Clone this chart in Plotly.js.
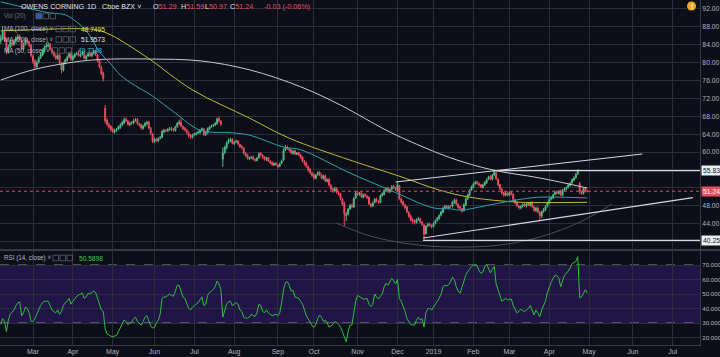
<!DOCTYPE html>
<html><head><meta charset="utf-8">
<script src="https://cdn.plot.ly/plotly-3.0.1.min.js"></script>
<style>html,body{margin:0;padding:0;background:#0c0e18;overflow:hidden}#chart{width:720px;height:357px}</style>
</head><body><div id="chart"></div>
<script>
// bar index: 0 = first trading day of March 2018 (trading-day axis, as TradingView)
const firstBar = -17;
const open = [
84.8,85.4,86.8,85.2,82.4,83.6,84.5,84.1,84.9,85.3,
85.9,85.0,83.1,84.1,85.1,84.5,83.9,81.4,80.3,79.0,
80.1,81.1,81.7,82.5,83.5,83.7,84.1,82.9,82.3,81.5,
80.9,81.7,79.7,78.3,79.9,80.5,81.3,82.1,80.7,81.3,
81.9,82.1,81.5,81.9,82.3,80.9,81.5,82.1,81.5,82.1,
82.5,81.7,80.5,78.9,77.7,69.8,67.1,66.1,65.7,65.1,
64.5,64.9,65.1,65.5,66.1,66.5,67.3,66.9,66.1,66.5,
66.5,67.1,67.3,66.3,66.1,65.3,65.9,66.3,66.7,65.3,
64.1,62.3,62.9,62.5,63.1,63.3,64.5,64.9,64.7,65.1,
65.3,65.1,64.8,65.7,66.3,66.7,65.7,65.3,64.9,64.3,
63.7,63.3,63.9,63.9,64.3,64.3,64.9,65.1,63.9,64.3,
65.1,65.7,65.9,66.1,66.3,67.5,66.9,58.4,59.9,60.9,
62.1,62.5,62.9,61.9,62.3,62.5,61.7,61.3,60.9,59.7,
59.3,58.5,58.7,58.9,58.3,58.1,58.7,59.7,59.3,58.9,
58.3,58.7,57.9,57.7,57.1,57.5,57.1,56.9,57.5,58.2,
60.5,61.1,60.7,60.5,59.7,60.3,59.5,59.9,59.3,58.9,
57.9,57.5,56.7,56.1,55.3,54.9,54.1,54.9,55.5,54.9,
54.1,54.7,53.5,53.9,52.5,51.7,51.3,51.9,50.9,50.7,
49.5,48.6,45.8,46.1,47.3,48.1,47.7,49.7,50.9,50.5,
50.9,49.9,50.5,50.1,49.9,48.3,47.9,48.7,49.5,48.9,
48.7,50.3,50.5,51.5,51.9,51.1,51.7,52.3,51.9,51.5,
52.4,49.5,48.9,48.1,47.7,46.5,45.7,44.9,44.5,44.2,
44.9,45.1,44.3,43.6,41.8,43.5,43.9,43.5,43.3,44.1,
44.7,45.1,45.9,46.5,47.5,47.9,47.5,47.9,47.9,48.7,
49.3,48.3,47.7,47.3,46.9,48.1,49.5,50.3,51.5,52.1,
52.9,53.3,52.9,52.7,52.1,52.7,53.1,53.9,54.5,53.9,
54.9,55.3,53.9,52.7,51.7,50.9,50.3,50.9,50.3,51.0,
50.5,49.3,48.7,47.9,47.5,47.9,48.3,47.9,48.5,48.1,
48.7,47.7,46.9,47.5,46.5,45.7,46.7,47.1,47.9,48.5,
49.5,49.7,50.5,51.1,50.7,51.3,50.3,51.5,51.7,52.1,
52.5,53.1,53.7,54.3,55.1,53.0,51.1,50.7,51.9,51.29];
const high = [
86.2,88.2,87.4,85.6,84.0,85.2,85.0,85.3,85.9,86.4,
86.3,85.4,84.5,85.6,85.5,84.9,84.2,81.9,80.8,80.5,
81.4,82.2,83.0,83.8,84.3,84.6,84.4,83.3,82.7,81.9,
82.0,82.0,80.1,80.2,80.9,81.6,82.4,82.5,81.8,82.2,
82.4,82.5,82.1,82.6,82.6,81.8,82.3,82.5,82.3,82.8,
82.8,82.0,80.8,79.3,78.0,70.5,67.6,66.6,66.1,65.5,
65.2,65.4,65.9,66.4,67.0,67.7,67.7,67.2,66.8,66.9,
67.4,67.6,67.6,66.6,66.4,66.1,66.7,67.0,67.0,65.6,
64.3,63.2,63.1,63.3,63.6,64.9,65.2,65.1,65.4,65.6,
65.6,65.4,65.9,66.7,67.2,67.6,66.0,65.6,65.2,64.6,
64.0,64.1,64.3,64.5,64.8,65.1,65.5,65.4,64.6,65.5,
65.9,66.1,66.3,66.7,67.7,67.9,67.1,61.0,61.4,62.4,
63.0,63.2,63.1,62.5,62.8,62.7,61.9,61.6,61.1,60.0,
59.6,59.0,59.1,59.2,58.6,58.9,59.9,60.0,59.5,59.1,
58.9,58.9,58.2,57.9,57.7,57.7,57.3,57.6,58.3,60.8,
61.6,61.4,61.0,60.7,60.4,60.5,60.0,60.1,59.6,59.1,
58.2,57.8,57.0,56.4,55.6,55.2,55.1,55.7,55.8,55.2,
54.9,55.0,54.1,54.2,52.8,52.0,52.2,52.1,51.2,50.9,
49.8,48.9,46.6,47.5,48.4,48.5,49.9,51.2,51.3,51.1,
51.1,50.7,50.8,50.4,50.1,48.6,48.9,49.7,49.8,49.2,
50.5,51.0,51.7,52.1,52.2,51.9,52.6,52.6,52.2,53.3,
52.7,49.8,49.2,48.4,48.0,46.8,46.0,45.2,44.9,45.2,
45.5,45.3,44.6,43.9,43.6,44.2,44.2,43.8,44.3,44.9,
45.5,46.1,46.9,47.8,48.2,48.2,48.1,48.2,49.1,49.6,
49.6,48.6,48.0,47.5,48.5,49.8,50.7,51.7,52.5,53.2,
53.6,53.6,53.2,52.9,52.9,53.5,54.1,54.7,54.8,55.1,
56.0,55.6,54.1,52.9,51.9,51.1,51.1,51.2,51.2,51.3,
50.8,49.5,48.9,48.2,48.1,48.5,48.6,48.7,48.7,48.9,
49.0,48.0,47.7,47.8,46.8,46.9,47.5,48.1,48.9,49.7,
50.1,50.7,51.3,51.4,51.5,51.6,51.7,52.1,52.3,52.9,
53.3,54.1,54.6,55.3,56.2,53.3,51.4,52.1,52.2,51.59];
const low = [
84.2,85.0,84.6,81.8,82.0,83.2,83.6,83.8,84.6,85.0,
84.9,82.8,82.7,83.8,84.2,83.4,81.2,79.7,78.6,78.7,
79.8,80.8,81.4,82.2,83.1,83.4,82.7,81.9,81.2,80.6,
80.6,79.5,77.6,78.0,79.6,80.2,81.0,80.4,80.4,81.0,
81.6,81.3,81.2,81.6,80.7,80.6,81.2,81.3,81.2,81.8,
81.5,80.1,78.7,77.2,75.8,66.4,65.8,65.2,64.6,64.2,
64.1,64.5,64.9,65.2,65.8,66.2,66.7,65.9,65.8,66.1,
66.2,66.8,66.1,65.7,65.0,65.0,65.6,66.0,65.1,63.8,
62.0,62.0,62.3,62.2,62.8,63.1,64.2,64.4,64.5,64.8,
64.7,64.5,64.6,65.4,66.0,65.5,64.9,64.6,64.0,63.2,
62.9,63.0,63.6,63.7,64.0,64.1,64.6,63.6,63.6,64.1,
64.9,65.4,65.6,65.8,66.1,66.6,65.8,56.7,59.5,60.6,
61.8,62.2,61.7,61.6,62.0,61.5,60.9,60.6,59.4,58.9,
58.3,58.2,58.4,58.1,57.8,57.9,58.5,59.0,58.5,58.1,
58.0,57.8,57.3,56.9,56.9,56.9,56.3,56.6,57.3,58.0,
60.2,60.5,60.1,59.5,59.4,59.3,59.3,59.1,58.5,57.7,
57.0,56.5,55.6,55.0,54.4,53.8,53.9,54.7,54.6,53.9,
53.8,53.3,53.2,52.3,51.4,50.9,51.0,50.6,50.2,49.2,
48.0,43.3,44.6,45.8,47.0,47.4,47.5,49.5,50.2,50.2,
49.7,49.6,49.9,49.5,48.1,47.6,47.7,48.5,48.7,48.4,
48.5,50.0,50.3,51.2,50.9,50.8,51.5,51.7,51.3,51.2,
49.2,48.4,47.9,47.2,46.3,45.3,44.5,44.0,43.8,44.0,
44.6,44.1,43.5,40.3,41.5,43.2,43.3,42.9,43.1,43.8,
44.4,44.9,45.6,46.3,47.2,47.3,47.2,47.5,47.6,48.4,
48.1,47.3,47.0,46.4,46.7,47.9,49.3,50.1,51.3,51.9,
52.6,52.7,52.3,51.9,51.8,52.4,52.9,53.7,53.7,53.6,
54.6,53.8,52.3,51.5,50.5,50.0,50.1,50.1,50.1,50.3,
49.1,48.3,47.7,47.1,47.2,47.6,47.7,47.6,47.9,47.8,
47.5,46.6,46.6,46.3,44.8,45.3,46.4,46.8,47.6,48.3,
49.2,49.5,50.3,50.5,50.5,50.1,50.1,51.2,51.5,51.9,
52.3,52.9,53.5,54.0,54.9,50.6,50.4,50.5,51.0,50.97];
const close = [
85.5,87.0,85.0,82.6,83.5,84.6,84.0,84.8,85.4,85.8,
85.2,83.2,84.0,85.0,84.6,83.8,81.6,80.2,79.2,80.0,
81.0,81.8,82.6,83.4,83.8,84.0,83.0,82.2,81.6,81.0,
81.6,79.8,78.4,79.8,80.6,81.2,82.0,80.8,81.4,81.8,
82.0,81.6,81.8,82.2,81.0,81.4,82.0,81.6,82.0,82.4,
81.8,80.4,79.0,77.6,76.4,67.0,66.2,65.6,65.0,64.6,
64.8,65.0,65.6,66.0,66.6,67.2,67.0,66.2,66.4,66.6,
67.0,67.2,66.4,66.0,65.4,65.8,66.4,66.6,65.4,64.2,
62.4,62.8,62.6,63.0,63.2,64.6,64.8,64.8,65.0,65.2,
65.0,64.9,65.6,66.4,66.6,65.8,65.2,65.0,64.4,63.6,
63.4,63.8,64.0,64.2,64.4,64.8,65.2,64.0,64.2,65.2,
65.6,65.8,66.0,66.4,67.4,67.0,66.2,59.8,61.0,62.0,
62.6,62.8,62.0,62.2,62.4,61.8,61.2,61.0,59.8,59.2,
58.6,58.6,58.8,58.4,58.2,58.6,59.6,59.4,58.8,58.4,
58.6,58.0,57.6,57.2,57.4,57.2,56.8,57.4,58.0,60.4,
61.0,60.8,60.4,59.8,60.2,59.6,59.8,59.4,58.8,58.0,
57.4,56.8,56.0,55.4,54.8,54.2,54.8,55.4,55.0,54.2,
54.6,53.6,53.8,52.6,51.8,51.4,51.8,51.0,50.6,49.6,
48.4,46.2,46.0,47.2,48.0,47.8,49.6,50.8,50.6,50.8,
50.0,50.4,50.2,49.8,48.4,48.0,48.6,49.4,49.0,48.8,
50.2,50.6,51.4,51.8,51.2,51.6,52.2,52.0,51.6,52.6,
49.6,48.8,48.2,47.6,46.6,45.6,44.8,44.4,44.3,44.8,
45.0,44.4,43.8,41.6,43.4,43.8,43.6,43.4,44.0,44.6,
45.2,45.8,46.6,47.4,47.8,47.6,47.8,47.8,48.8,49.2,
48.4,47.6,47.4,46.8,48.2,49.4,50.4,51.4,52.2,52.8,
53.2,53.0,52.6,52.2,52.6,53.2,53.8,54.4,54.0,54.8,
55.4,54.0,52.6,51.8,50.8,50.4,50.8,50.4,50.9,50.6,
49.4,48.6,48.0,47.6,47.8,48.2,48.0,48.4,48.2,48.6,
47.8,47.0,47.4,46.6,45.8,46.6,47.2,47.8,48.6,49.4,
49.8,50.4,51.0,50.8,51.2,50.4,51.4,51.8,52.0,52.6,
53.0,53.8,54.2,55.0,55.8,51.2,50.8,51.8,51.27,51.24];
const rsi = [
29,33,31,24,32,36,37.5,39,42,44,
44.5,35,37,41,40,37,31,31,33,36,
40,42,44,45,45,45,42,39,38,37,
39,36,38,42,44,45,47,43,45,47,
48.5,49.3,50,50.6,47,48,50.5,50,51,52,
51,47,43,39,38,26,22.5,21.5,21,20.6,
20.8,21.5,24,26.5,30,32,31,29,30,30.5,
33,34,31,30,28.6,31,34,35,31,28,
26.5,27,30,32,36,47,48,48,49,50,
49,48.5,52,56,56,51,48,47,44,40,
39,41,42,43,44,46,48,42,43,49,
51,52,53,55,59,57,53,34,38,43,
44.7,45,42,43,44,43,39,38,34,33.4,
33.4,34,36,35,34.5,37,43,42,38,37,
39,37,36,35,35.5,36,35,37,44,53,
58,58.5,56,52,52.5,48,47.5,47,45,43,
39,35,33,30,28,27,29,33,35.5,34,
31,32,30,27,28,29,31,30.5,29,27,
24,20,17,24,28.5,28.6,38,45,49,48,
47,46.5,46.5,47,43,41.3,43,50,48,46.5,
48.5,50,55,57.4,56,58,60.8,59,57,60,
47,45,42,38,33,31,29,28.6,28.6,32,
34,32,33,27.2,37,40,40,39,41,43,
45,47,50,55,56,55.5,56.5,58.5,61.5,60,
55,52,50.5,55,59,63,65.4,67.5,69,70,
70,69.5,66,64.3,65,69,70.5,67,64.5,67,
69,57,53,49,45,46,47,46,46.5,46.5,
42,39.5,37,38,39.5,38.5,38,39,40,42,
38,35.5,39,37,34.3,39,42,45,51,55,
58,60.8,63,62.5,61,55,60,63,64,66,
68,71,72,72.5,75.7,47.5,48,51,53,50.5898];

// moving averages at a few bars
const ma50Bar = [-17,9,17,25,30,35,41,46,54,62,75,88,105,114,132,141,167,188,211,220,225,241,255,266,278,292];
const ma50Val = [93.6,91.1,90.7,88.4,86.0,82.4,79.7,77.2,74.8,72.8,68.7,64.9,64.3,63.8,61.1,60.5,55.3,51.5,47.5,47.3,47.0,48.2,49.3,49.9,49.9,49.7348];
const ma100Bar = [-17,9,25,34,41,51,62,84,114,135,167,193,214,230,255,272,292];
const ma100Val = [87.1,87.5,87.6,87.3,86.2,83.7,80.6,73.9,67.6,63.1,58.2,54.6,51.5,49.9,48.8,48.7,48.7495];
const ma200Bar = [-17,0,18,35,62,88,114,141,162,186,197,220,242,267,292];
const ma200Val = [76.1,78.4,79.9,80.7,80.8,80.4,78.4,74.6,70.5,64.9,62.7,58.7,56.0,54.2,51.9573];

// user drawings
const chanTopBar = [191,321], chanTopVal = [53.3,59.56];
const chanLowBar = [205.5,347.7], chanLowVal = [40.77,49.8];
const resBar = [242,360], resVal = [55.83,55.83];
const supBar = [205.5,360], supVal = [40.25,40.25];
const arcBar = [159.6,177.6,198.6,219.7,246,267.1,288.2,305.1];
const arcVal = [44.13,41.22,39.43,38.76,39.2,41.0,44.35,48.38];

const monthTickBar = [0,21,42,64,85,106,129,148,171,192,211,232,251,272,293,316,337];
const monthTickText = ['Mar','Apr','May','Jun','Jul','Aug','Sep','Oct','Nov','Dec','2019','Feb','Mar','Apr','May','Jun','Jul'];
const priceTicks = [40,44,48,52,56,60,64,68,72,76,80,84,88,92];
const priceTickHidden = [40,52,56];
const rsiTicks = [20,30,40,50,60,70];

[open,high,low,close,rsi].forEach((a,k)=>{ if(a.length!==close.length) throw new Error('array '+k+' length '+a.length+' vs '+close.length); });

const bars = close.map((_,k)=>firstBar+k);
const n = close.length;
const lastC = close[n-1], prevC = close[n-2];
const chg = lastC - prevC, chgPct = chg/prevC*100;

const UP='#53b987', DN='#eb4d5c', BG='#0c0e18', GRID='#2a2e3b', TXT='#b2b5be';
const FONT = 'Liberation Sans, Arial, DejaVu Sans, sans-serif';

const traces = [
  {type:'candlestick', x:bars, open:open, high:high, low:low, close:close, xaxis:'x', yaxis:'y',
   increasing:{line:{color:UP,width:1},fillcolor:UP}, decreasing:{line:{color:DN,width:1},fillcolor:DN},
   whiskerwidth:0, hoverinfo:'skip', showlegend:false},
  {type:'scatter', mode:'lines', x:ma200Bar, y:ma200Val, line:{color:'#c9cbd2',width:1,shape:'spline'}, hoverinfo:'skip', showlegend:false},
  {type:'scatter', mode:'lines', x:ma100Bar, y:ma100Val, line:{color:'#bcbc33',width:1,shape:'spline'}, hoverinfo:'skip', showlegend:false},
  {type:'scatter', mode:'lines', x:ma50Bar, y:ma50Val, line:{color:'#2aa2ae',width:1,shape:'spline'}, hoverinfo:'skip', showlegend:false},
  {type:'scatter', mode:'lines', x:arcBar, y:arcVal, line:{color:'#4a4d58',width:1,shape:'spline'}, hoverinfo:'skip', showlegend:false},
  {type:'scatter', mode:'lines', x:chanTopBar, y:chanTopVal, line:{color:'#d6d8de',width:1.2}, hoverinfo:'skip', showlegend:false},
  {type:'scatter', mode:'lines', x:chanLowBar, y:chanLowVal, line:{color:'#d6d8de',width:1.2}, hoverinfo:'skip', showlegend:false},
  {type:'scatter', mode:'lines', x:resBar, y:resVal, line:{color:'#d6d8de',width:1.2}, hoverinfo:'skip', showlegend:false},
  {type:'scatter', mode:'lines', x:supBar, y:supVal, line:{color:'#d6d8de',width:1.2}, hoverinfo:'skip', showlegend:false},
  {type:'scatter', mode:'lines', x:bars, y:rsi, xaxis:'x', yaxis:'y2', line:{color:'#2fbf3a',width:1}, hoverinfo:'skip', showlegend:false}
];

const H = 345, W = 700;
const px = x => x/W, py = y => (H-y)/H;
const ann = [];
function t(x,y,text,color,size,extra){ ann.push(Object.assign({xref:'paper',yref:'paper',x:px(x),y:py(y),xanchor:'left',yanchor:'middle',showarrow:false,text:text,font:{family:FONT,size:size||7,color:color}},extra||{})); }
const red = s => "<span style='color:"+DN+"'>"+s+"</span>";
t(19,6,'OWENS CORNING','#e0e3eb',7.2);
t(85,6,'1D','#e0e3eb',7.2);
t(100,6,'Cboe BZX ˅','#e0e3eb',7.2);
t(151,6,'O'+red(open[n-1].toFixed(2)),'#e0e3eb',7.2);
t(179,6,'H'+red(high[n-1].toFixed(2)),'#e0e3eb',7.2);
t(203,6,'L'+red(low[n-1].toFixed(2)),'#e0e3eb',7.2);
t(228,6,'C'+red(lastC.toFixed(2)),'#e0e3eb',7.2);
t(262,6,chg.toFixed(2)+' ('+chgPct.toFixed(2)+'%)',DN,7.2);
t(2,16,'Vol (20)','#6a6d78',6.3);
t(2,29,'MA (100, close) ˅','#b2b5be',6.3);
t(79,29,ma100Val[ma100Val.length-1].toFixed(4),'#e3e32a',6.6);
t(2,39.5,'MA (200, close) ˅','#b2b5be',6.3);
t(79,39.5,ma200Val[ma200Val.length-1].toFixed(4),'#e6e8ee',6.6);
t(2,50.5,'MA (50, close) ˅','#b2b5be',6.3);
t(76,50.5,ma50Val[ma50Val.length-1].toFixed(4),'#35c3d0',6.6);
t(2,258,'RSI (14, close) ˅','#b2b5be',6.3);
t(77,258,rsi[n-1].toFixed(4),'#35d13f',6.6);
// "!" badge
ann.push({xref:'paper',yref:'paper',x:px(691.5),y:py(6),xanchor:'center',yanchor:'middle',showarrow:false,text:'<b>!</b>',font:{family:FONT,size:7,color:'#ffffff'}});
// price-scale tags
function tag(v,bg,fg){ ann.push({xref:'paper',yref:'y',x:1,y:v,xanchor:'left',yanchor:'middle',xshift:1,showarrow:false,text:v.toFixed(2),bgcolor:bg,borderpad:1,font:{family:FONT,size:6.8,color:fg}}); }
tag(resVal[0],'#eceef2','#131722');
tag(lastC,DN,'#ffffff');
tag(supVal[0],'#eceef2','#131722');

const shapes = [
  {type:'rect',xref:'paper',yref:'y2',x0:0,x1:1,y0:30,y1:70,fillcolor:'#201546',line:{width:0},layer:'below'},
  {type:'line',xref:'paper',yref:'y2',x0:0,x1:1,y0:70,y1:70,line:{color:'#8c8f99',width:1,dash:'dash'},layer:'between'},
  {type:'line',xref:'paper',yref:'y2',x0:0,x1:1,y0:30,y1:30,line:{color:'#8c8f99',width:1,dash:'dash'},layer:'between'},
  {type:'line',xref:'paper',yref:'y',x0:0,x1:1,y0:lastC,y1:lastC,line:{color:DN,width:1,dash:'dot'}},
  {type:'line',xref:'paper',yref:'paper',x0:0,x1:1.05,y0:py(250),y1:py(250),line:{color:'#363a47',width:2}},
  {type:'circle',xref:'paper',yref:'paper',x0:px(687),x1:px(696),y0:py(10.5),y1:py(1.5),fillcolor:'#f5a623',line:{width:0}}
];
// legend control boxes
function boxes(x,y,firstBlue){ for(let k=0;k<3;k++){ shapes.push({type:'rect',xref:'paper',yref:'paper',x0:px(x+k*7),x1:px(x+k*7+5.5),y0:py(y+2.8),y1:py(y-2.8),line:{color:'#5d606b',width:0.8},fillcolor:(firstBlue&&k===0)?'#2f56b8':'rgba(0,0,0,0)'}); } }
boxes(36,16,true); boxes(56,29,false); boxes(56,39.5,false); boxes(52,50.5,false); boxes(53,258,false);

const layout = {
  width:720, height:357, margin:{l:0,r:20,t:0,b:12},
  paper_bgcolor:BG, plot_bgcolor:BG, showlegend:false,
  font:{family:FONT,color:TXT,size:7},
  xaxis:{range:[-17.39,351.4], anchor:'y2', tickvals:monthTickBar, ticktext:monthTickText, showgrid:true, gridcolor:GRID, gridwidth:1,
         zeroline:false, ticks:'', tickfont:{size:7,color:TXT}, showline:true, linecolor:'#363a47', rangeslider:{visible:false}, fixedrange:true},
  yaxis:{domain:[py(249),1], range:[38.31,94.01], side:'right', tickvals:priceTicks,
         ticktext:priceTicks.map(v=>priceTickHidden.includes(v)?'':v.toFixed(2)), showgrid:true, gridcolor:GRID, zeroline:false,
         ticks:'', tickfont:{size:6.8,color:TXT}, showline:true, linecolor:'#363a47', fixedrange:true},
  yaxis2:{domain:[0,py(251)], range:[14.83,79.66], side:'right', tickvals:rsiTicks, ticktext:rsiTicks.map(v=>v.toFixed(4)),
          showgrid:true, gridcolor:GRID, zeroline:false, ticks:'', tickfont:{size:6.2,color:TXT}, showline:true, linecolor:'#363a47', fixedrange:true},
  shapes:shapes, annotations:ann
};
Plotly.newPlot('chart', traces, layout, {staticPlot:true, displayModeBar:false});
</script></body></html>
